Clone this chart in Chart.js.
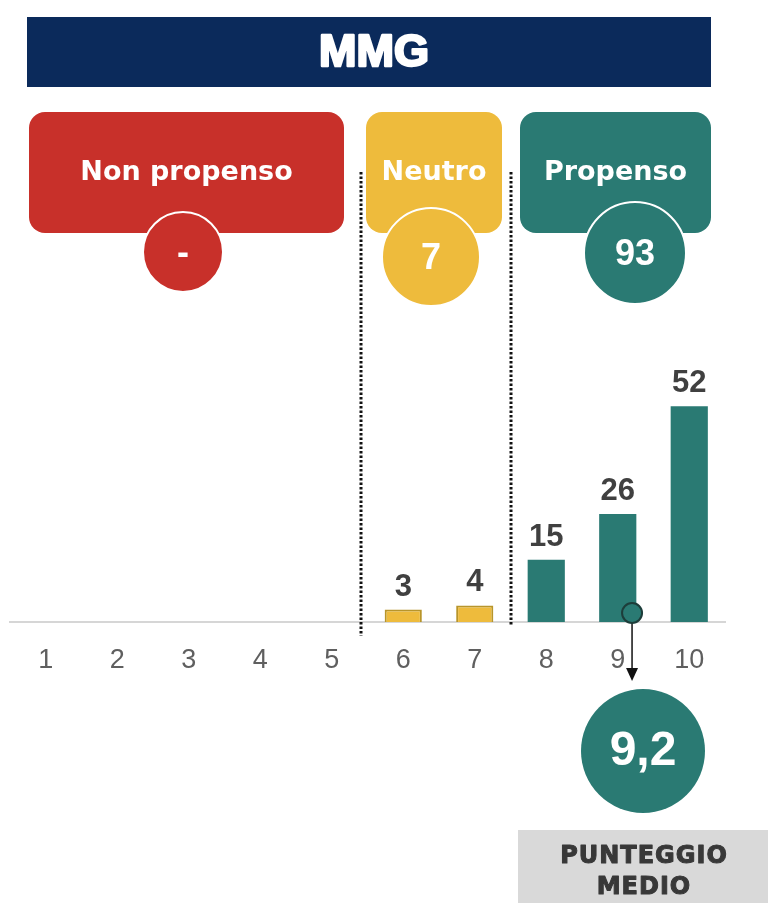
<!DOCTYPE html>
<html lang="it">
<head>
<meta charset="utf-8">
<title>MMG</title>
<script src="https://cdn.jsdelivr.net/npm/chart.js@4.4.1/dist/chart.umd.min.js"></script>
<style>
  html, body { margin: 0; padding: 0; background: #fff; }
  canvas { display: block; }
</style>
</head>
<body>
<canvas id="chartMMG" width="768" height="909"></canvas>
<script>
// Punteggi 1-10 e quota di risposte (%)
const scores = ['1', '2', '3', '4', '5', '6', '7', '8', '9', '10'];
const shares = [0, 0, 0, 0, 0, 3, 4, 15, 26, 52];
const groupNames = ['Non propenso', 'Neutro', 'Propenso'];
const groupTotals = [0, 7, 93];
const meanScore = 9.2;

const NAVY = '#0b2a5b', RED = '#c8302a', YELLOW = '#eebb3c', TEAL = '#2a7a73';
const FONT = "'Liberation Sans', Arial, sans-serif";
const WIDE = "'DejaVu Sans', Verdana, sans-serif";

const barColors = shares.map((v, i) => i < 5 ? RED : i < 7 ? YELLOW : TEAL);
const barBorders = shares.map((v, i) => i >= 5 && i < 7 ? '#b8952a' : 'rgba(0,0,0,0)');
const barBorderW = shares.map((v, i) => i >= 5 && i < 7 ? 2 : 0);

// riquadri delle tre fasce
const bands = [
	{ x: 29, w: 315, color: RED, cx: 183, cy: 252, r: 40 },
	{ x: 366, w: 136, color: YELLOW, cx: 431, cy: 257, r: 49 },
	{ x: 520, w: 191, color: TEAL, cx: 635, cy: 253, r: 51 }
];

function roundBox(ctx, x, y, w, h, r, fill) {
	ctx.beginPath();
	ctx.roundRect(x, y, w, h, r);
	ctx.fillStyle = fill;
	ctx.fill();
}

// testo in grassetto "pesante"
function heavyText(ctx, text, x, y, color, weight) {
	ctx.fillStyle = color;
	ctx.strokeStyle = color;
	ctx.lineWidth = weight;
	ctx.lineJoin = 'round';
	ctx.strokeText(text, x, y);
	ctx.fillText(text, x, y);
}

const decorations = {
	id: 'decorations',
	afterDraw(chart) {
		const ctx = chart.ctx;
		const xs = chart.scales.x, ys = chart.scales.y;
		ctx.save();

		// intestazione
		ctx.fillStyle = NAVY;
		ctx.fillRect(27, 17, 684, 70);
		ctx.textAlign = 'center';
		ctx.textBaseline = 'middle';
		ctx.font = 'bold 45px ' + FONT;
		heavyText(ctx, 'MMG', 374, 54, '#fff', 2.5);

		// fasce con totali
		bands.forEach((b, i) => {
			roundBox(ctx, b.x, 112, b.w, 121, 16, b.color);
			ctx.fillStyle = '#fff';
			ctx.font = 'bold 27px ' + WIDE;
			ctx.fillText(groupNames[i], b.x + b.w / 2, 173);
			ctx.beginPath();
			ctx.arc(b.cx, b.cy, b.r, 0, Math.PI * 2);
			ctx.fillStyle = b.color;
			ctx.fill();
			ctx.strokeStyle = '#fff';
			ctx.lineWidth = 2;
			ctx.stroke();
			ctx.fillStyle = '#fff';
			ctx.font = 'bold 36px ' + FONT;
			ctx.fillText(groupTotals[i] ? String(groupTotals[i]) : '-', b.cx, b.cy + 2);
		});

		// separatori tratteggiati
		ctx.strokeStyle = '#111';
		ctx.lineWidth = 3;
		ctx.setLineDash([2.5, 2]);
		[[361, 636], [511, 626]].forEach(([x, y2]) => {
			ctx.beginPath();
			ctx.moveTo(x, 172);
			ctx.lineTo(x, y2);
			ctx.stroke();
		});
		ctx.setLineDash([]);

		// punteggio medio
		const mx = xs.getPixelForValue(meanScore - 1);
		const my = ys.getPixelForValue(0) - 9;
		ctx.strokeStyle = '#111';
		ctx.lineWidth = 1.5;
		ctx.beginPath();
		ctx.moveTo(mx, my + 10);
		ctx.lineTo(mx, 670);
		ctx.stroke();
		ctx.beginPath();
		ctx.moveTo(mx - 6, 668);
		ctx.lineTo(mx + 6, 668);
		ctx.lineTo(mx, 681);
		ctx.closePath();
		ctx.fillStyle = '#111';
		ctx.fill();
		ctx.beginPath();
		ctx.arc(mx, my, 10, 0, Math.PI * 2);
		ctx.fillStyle = TEAL;
		ctx.fill();
		ctx.strokeStyle = '#1d3d3a';
		ctx.lineWidth = 2;
		ctx.stroke();

		ctx.beginPath();
		ctx.arc(643, 751, 62, 0, Math.PI * 2);
		ctx.fillStyle = TEAL;
		ctx.fill();
		ctx.fillStyle = '#fff';
		ctx.font = 'bold 48px ' + FONT;
		ctx.fillText(meanScore.toFixed(1).replace('.', ','), 643, 752);

		ctx.fillStyle = '#d9d9d9';
		ctx.fillRect(518, 830, 250, 73);
		ctx.font = 'bold 24px ' + WIDE;
		ctx.letterSpacing = '1px';
		heavyText(ctx, 'PUNTEGGIO', 644, 857, '#383838', 1);
		heavyText(ctx, 'MEDIO', 644, 888, '#383838', 1);
		ctx.restore();
	},
	afterDatasetsDraw(chart) {
		const ctx = chart.ctx;
		const meta = chart.getDatasetMeta(0);
		ctx.save();
		ctx.fillStyle = '#404040';
		ctx.font = 'bold 31px ' + FONT;
		ctx.textAlign = 'center';
		ctx.textBaseline = 'alphabetic';
		meta.data.forEach((bar, i) => {
			if (!shares[i]) return;
			ctx.fillText(String(shares[i]), bar.x, bar.y - 14);
		});
		ctx.restore();
	}
};

new Chart(document.getElementById('chartMMG'), {
	type: 'bar',
	data: {
		labels: scores,
		datasets: [{
			data: shares,
			backgroundColor: barColors,
			borderColor: barBorders,
			borderWidth: barBorderW,
			borderSkipped: 'bottom',
			barPercentage: 0.52,
			categoryPercentage: 1
		}]
	},
	options: {
		responsive: false,
		animation: false,
		layout: { padding: { left: 10, right: 43, top: 373, bottom: 227 } },
		plugins: { legend: { display: false }, tooltip: { enabled: false } },
		scales: {
			x: {
				grid: { display: false, drawTicks: false },
				border: { display: true, color: '#d6d6d6', width: 2 },
				ticks: { color: '#5f5f5f', font: { family: FONT, size: 27 }, padding: 22 },
				afterFit: (axis) => { axis.height = 60; }
			},
			y: { display: false, min: 0, max: 60 }
		}
	},
	plugins: [decorations]
});
</script>
</body>
</html>
